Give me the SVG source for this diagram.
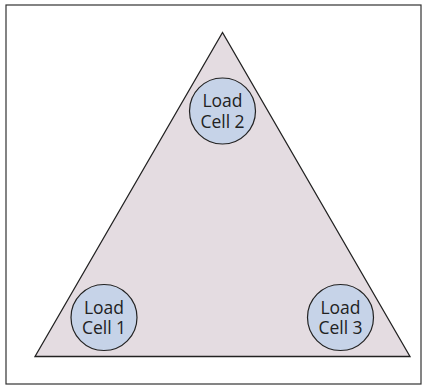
<svg xmlns="http://www.w3.org/2000/svg" width="423" height="385" viewBox="0 0 423 385">
<style>
.frame{fill:#fff;stroke:#333;stroke-width:1.2}
.plate{fill:#e4dce1;stroke:#222;stroke-width:1.3;stroke-linejoin:miter}
.cell{fill:#c6d3e8;stroke:#222;stroke-width:1.2}
.lbl{font-family:"Open Sans","Noto Sans",sans-serif;font-size:17.5px;fill:#222;text-anchor:middle}
</style>
<rect class="frame" x="6" y="5" width="415" height="379"/>
<g id="plate"><polygon class="plate" points="222.5,32.5 35,356.5 410,356.5"/></g>
<g id="connectors"></g>
<g id="cell2"><circle class="cell" cx="222.5" cy="111" r="33"/><text class="lbl" x="222.5" y="107"><tspan x="222.5">Load</tspan><tspan x="222.5" dy="20.5">Cell 2</tspan></text></g>
<g id="cell1"><circle class="cell" cx="104" cy="317.5" r="33"/><text class="lbl" x="104" y="313.5"><tspan x="104">Load</tspan><tspan x="104" dy="20.5">Cell 1</tspan></text></g>
<g id="cell3"><circle class="cell" cx="340.5" cy="317.5" r="33"/><text class="lbl" x="340.5" y="313.5"><tspan x="340.5">Load</tspan><tspan x="340.5" dy="20.5">Cell 3</tspan></text></g>
</svg>
